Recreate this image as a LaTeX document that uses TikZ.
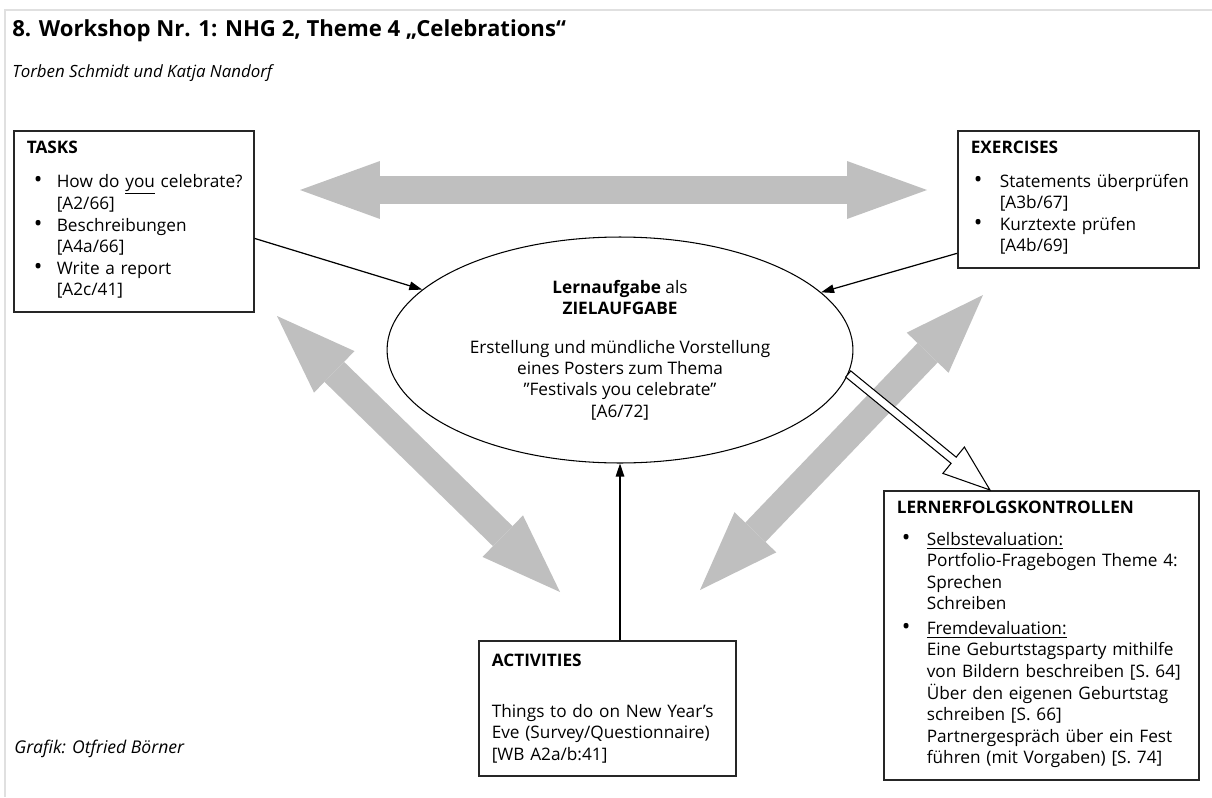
\documentclass[tikz,border=0pt]{standalone}
\usepackage{fontspec}
\setmainfont{Open Sans}
\usetikzlibrary{arrows.meta,calc,shapes.geometric}
\newcommand\boxfont{\fontsize{9.8}{12.2}\selectfont}
\newcommand\dotitem{{\fontsize{13}{12}\selectfont\textbullet}}
\tikzset{
  box/.style={draw=black!85, line width=0.9pt, anchor=north west, align=left,
    inner xsep=0.26cm, inner ysep=0.2cm, font=\boxfont},
  goal/.style={draw, ellipse, line width=0.6pt, minimum width=9.32cm,
    minimum height=4.52cm, inner sep=0pt, align=center, font=\boxfont},
  conn/.style={line width=0.7pt, -{Triangle[length=0.26cm,width=0.17cm]}},
  fat/.style={line width=0.56cm, draw=gray!50,
    {Triangle[length=1.6cm,width=1.16cm,line width=0pt]}-{Triangle[length=1.6cm,width=1.16cm,line width=0pt]}},
}
\begin{document}
\begin{tikzpicture}[x=0.02cm, y=-0.02cm]
\useasboundingbox (0,0) rectangle (1212,797);
\draw[black!12, line width=0.8pt] (5,797) -- (5,10) -- (1212,10);

% header
\node[anchor=base west, inner sep=0, font=\fontsize{12.6}{15}\selectfont\bfseries] (title) at (12,37)
  {8. Workshop Nr. 1: NHG 2, Theme 4 „Celebrations“};
\node[anchor=base west, inner sep=0, font=\fontsize{9.6}{12}\selectfont\itshape] (authors) at (12,78)
  {Torben Schmidt und Katja Nandorf};

% grey double arrows
\coordinate (fa1) at (300,190);
\coordinate (fa2) at (927,190);
\coordinate (fb1) at (277,316);
\coordinate (fb2) at (560,592);
\coordinate (fc1) at (983,295);
\coordinate (fc2) at (700,590);
\draw[fat] (fa1) -- (fa2);
\draw[fat] (fb1) -- (fb2);
\draw[fat] (fc1) -- (fc2);

% boxes
\node[box, minimum width=4.8cm, minimum height=3.6cm, text width=4.28cm] (tasks) at (13,130) {%
  \textbf{TASKS}\\[0.34cm]
  \begin{tabular}{@{\hspace{0.14cm}}p{0.46cm}@{}l@{}}
  \dotitem & How do \underline{you} celebrate?\\
   & [A2/66]\\
  \dotitem & Beschreibungen\\
   & [A4a/66]\\
  \dotitem & Write a report\\
   & [A2c/41]
  \end{tabular}};
\node[box, minimum width=4.82cm, minimum height=2.72cm, text width=4.3cm] (exer) at (957,130) {%
  \textbf{EXERCISES}\\[0.34cm]
  \begin{tabular}{@{\hspace{0.06cm}}p{0.52cm}@{}l@{}}
  \dotitem & Statements überprüfen\\
   & [A3b/67]\\
  \dotitem & Kurztexte prüfen\\
   & [A4b/69]
  \end{tabular}};
\node[goal] (zl) at (620,350) {%
  \textbf{Lernaufgabe} als\\\textbf{ZIELAUFGABE}\\[0.34cm]
  Erstellung und mündliche Vorstellung\\eines Posters zum Thema\\
  "Festivals you celebrate"\\{}[A6/72]};
\node[box, minimum width=6.3cm, minimum height=5.7cm, text width=5.78cm] (lek) at (883,490) {%
  \textbf{LERNERFOLGSKONTROLLEN}\\[0.3cm]
  \begin{tabular}{@{\hspace{0.1cm}}p{0.5cm}@{}l@{}}
  \dotitem & \underline{Selbstevaluation:}\\
   & Portfolio-Fragebogen Theme 4:\\
   & Sprechen\\
   & Schreiben\\[2pt]
  \dotitem & \underline{Fremdevaluation:}\\
   & Eine Geburtstagsparty mithilfe\\
   & von Bildern beschreiben [S. 64]\\
   & Über den eigenen Geburtstag\\
   & schreiben [S. 66]\\
   & Partnergespräch über ein Fest\\
   & führen (mit Vorgaben) [S. 74]
  \end{tabular}};
\node[box, minimum width=5.14cm, minimum height=2.7cm, text width=4.62cm] (act) at (478,640) {%
  \textbf{ACTIVITIES}\\[0.6cm]
  Things to do on New Year's\\Eve (Survey/Questionnaire)\\{}[WB A2a/b:41]};

\node[anchor=base west, inner sep=0, font=\fontsize{10}{12}\selectfont\itshape] (credit) at (14,753)
  {Grafik: Otfried Börner};

% connectors
\draw[conn] ([yshift=-0.34cm]tasks.east) -- (zl);
\draw[conn] ([yshift=-1.08cm]exer.west) -- (zl);
\draw[conn] (act.north -| zl.south) -- (zl.south);

% open arrow to the Lernerfolgskontrollen
\coordinate (os) at (zl.-6);
\coordinate (oe) at ([xshift=2.14cm]lek.north west);
\coordinate (oh) at ($(oe)!0.94cm!(os)$);
\filldraw[fill=white, line width=0.6pt]
  ($(os)!0.08cm!90:(oe)$) -- ($(oh)!0.08cm!-90:(os)$) -- ($(oh)!0.34cm!-90:(os)$) -- (oe)
  -- ($(oh)!0.34cm!90:(os)$) -- ($(oh)!0.08cm!90:(os)$) -- ($(os)!0.08cm!-90:(oe)$) -- cycle;
\end{tikzpicture}
\end{document}
